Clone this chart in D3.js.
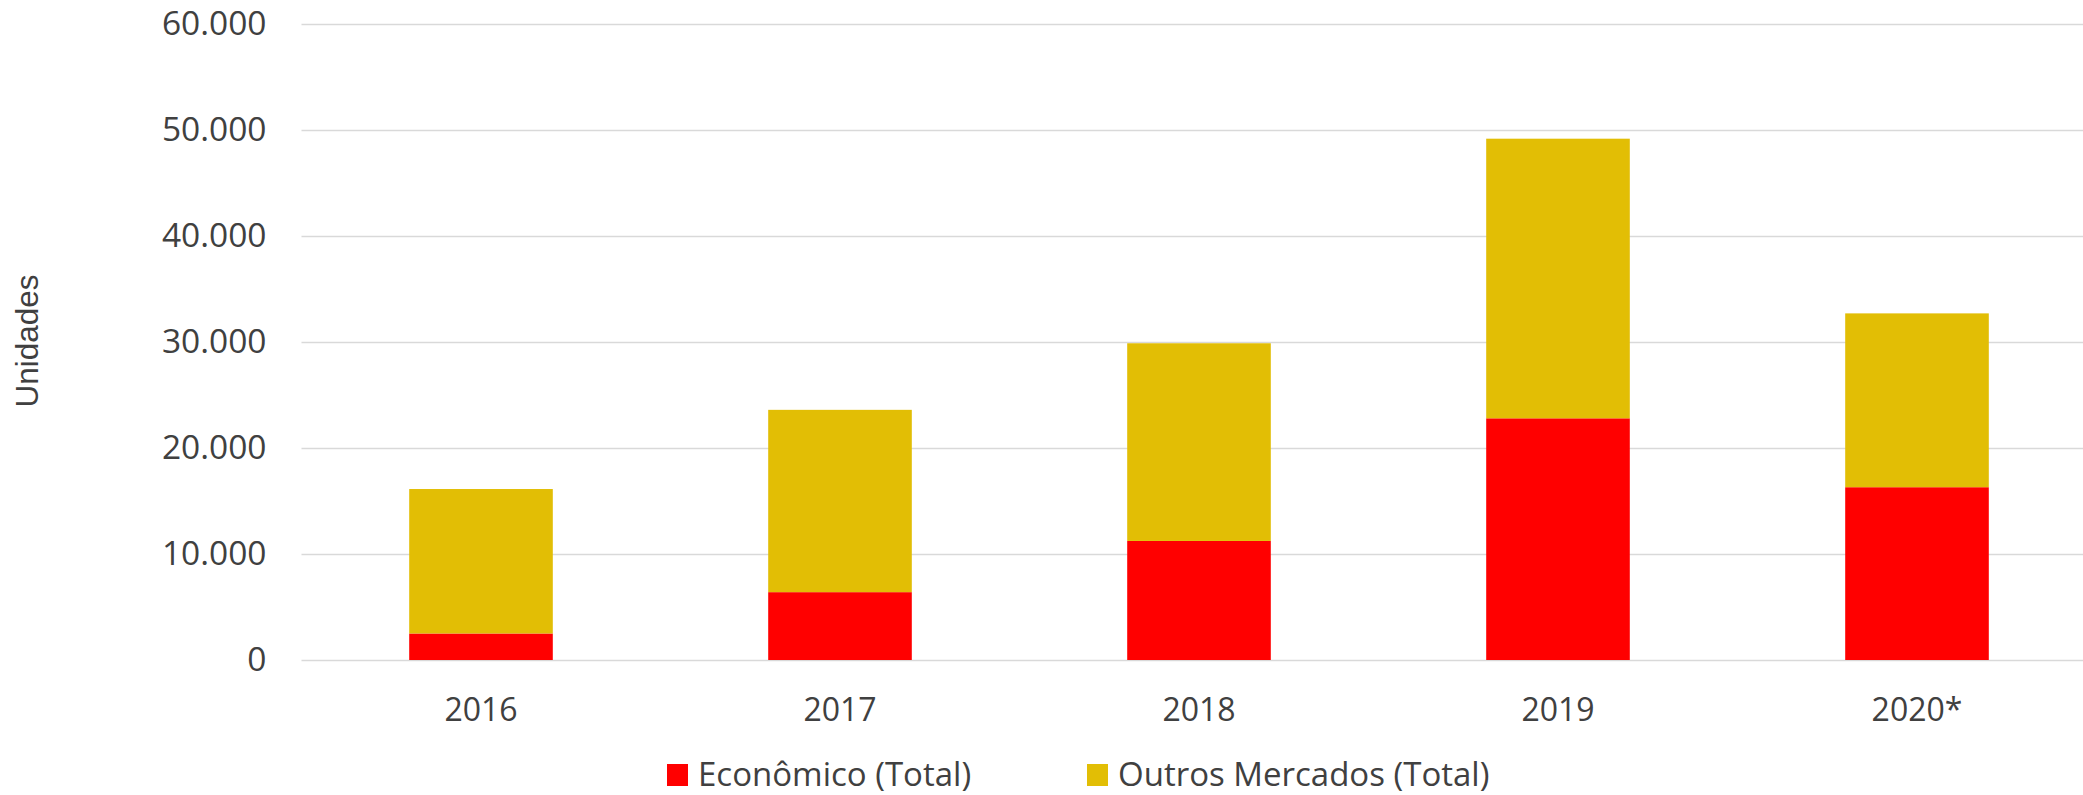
<!DOCTYPE html>
<html>
<head>
<meta charset="utf-8">
<script src="https://cdn.jsdelivr.net/npm/d3@7"></script>
<style>
  body { margin: 0; background: #fff; }
  text { fill: #404040; }
</style>
</head>
<body>
<div id="chart-area"></div>
<script>

let width = 2083,
height = 795;

// dados
let anos = ["2016", "2017", "2018", "2019", "2020*"];
let economico = [2500, 6400, 11230, 22800, 16300];
let outros = [13630, 17200, 18650, 26380, 16400];
let series = ["Econômico (Total)", "Outros Mercados (Total)"];
let cores = ["#ff0000", "#e2be05"];
let yTicks = [0, 10000, 20000, 30000, 40000, 50000, 60000];

let svg = d3.select("#chart-area").append("svg")
	.attr("width", width)
	.attr("height", height);

let x = d3.scaleBand()
	.domain(anos)
	.range([301.5, 2096.5])
	.paddingInner(0.6)
	.paddingOuter(0.3);

let y = d3.scaleLinear()
	.domain([0, 60000])
	.range([660, 24]);

let fmt = d3.formatLocale({decimal: ",", thousands: ".", grouping: [3], currency: ["R$", ""]}).format(",.0f");

// grid + eixo y
let yAxis = svg.append("g")
	.attr("transform", "translate(301.5,0)")
	.call(d3.axisLeft(y).tickValues(yTicks).tickFormat(fmt)
		.tickSize(-(width - 301.5)).tickPadding(35));
yAxis.select(".domain").remove();
yAxis.selectAll("line").attr("stroke", "#d9d9d9").attr("stroke-width", 1.5);
yAxis.selectAll("text")
	.attr("font-family", "Open Sans")
	.attr("font-size", 33.5)
	.attr("fill", "#404040");

// barras empilhadas
let tabela = anos.map((a, i) => ({ano: a, eco: economico[i], out: outros[i]}));
let stack = d3.stack().keys(["eco", "out"])(tabela);

svg.selectAll(".serie")
	.data(stack)
	.enter()
	.append("g")
	.attr("class", "serie")
	.attr("fill", (d, i) => cores[i])
	.selectAll("rect")
	.data(d => d)
	.enter()
	.append("rect")
	.attr("x", d => x(d.data.ano))
	.attr("width", x.bandwidth())
	.attr("y", d => y(d[1]))
	.attr("height", d => y(d[0]) - y(d[1]));

// eixo x
let xAxis = svg.append("g")
	.attr("transform", "translate(0,660)")
	.call(d3.axisBottom(x).tickSize(0).tickPadding(38));
xAxis.select(".domain").remove();
xAxis.selectAll("text")
	.attr("font-family", "Open Sans")
	.attr("font-size", 32)
	.attr("fill", "#404040");

// titulo do eixo y
svg.append("text")
	.attr("transform", "translate(38,341) rotate(-90)")
	.attr("text-anchor", "middle")
	.attr("font-family", "Liberation Sans")
	.attr("font-size", 31.5)
	.text("Unidades");

// legenda
let legX = [667, 1087];
let leg = svg.selectAll(".leg")
	.data(series)
	.enter()
	.append("g")
	.attr("class", "leg")
	.attr("transform", (d, i) => "translate(" + legX[i] + ",764)");
leg.append("rect")
	.attr("width", 21)
	.attr("height", 22)
	.attr("fill", (d, i) => cores[i]);
leg.append("text")
	.attr("x", 31)
	.attr("y", 22)
	.attr("font-family", "Open Sans")
	.attr("font-size", 33)
	.text(d => d);

</script>
</body>
</html>
